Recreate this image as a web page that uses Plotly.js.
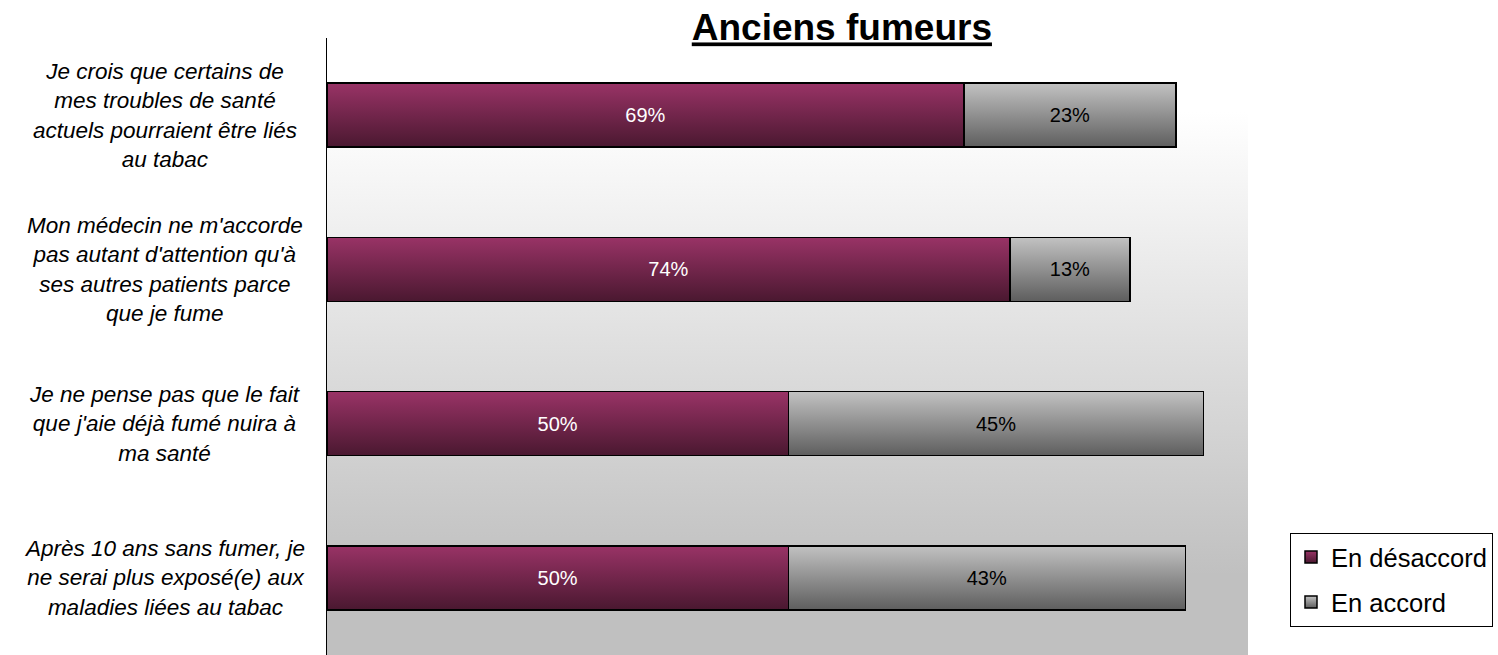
<!DOCTYPE html>
<html>
<head>
<meta charset="utf-8">
<script src="https://cdn.plot.ly/plotly-3.0.1.min.js"></script>
<style>
  html, body { margin: 0; padding: 0; background: #ffffff; }
  #chart { width: 1498px; height: 655px; }
</style>
</head>
<body>
<div id="chart"></div>
<script>
// ---- Data ----
const categories = [
  "Je crois que certains de<br>mes troubles de santé<br>actuels pourraient être liés<br>au tabac",
  "Mon médecin ne m'accorde<br>pas autant d'attention qu'à<br>ses autres patients parce<br>que je fume",
  "Je ne pense pas que le fait<br>que j'aie déjà fumé nuira à<br>ma santé",
  "Après 10 ans sans fumer, je<br>ne serai plus exposé(e) aux<br>maladies liées au tabac"
];
const seriesNames = ["En désaccord", "En accord"];
const desaccord = [69, 74, 50, 50];
const accord = [23, 13, 45, 43];
const chartTitle = "Anciens fumeurs";

// ---- Styles ----
const purple = "#72254a";
const grey = "#909090";

const traces = [
  {
    type: "bar", orientation: "h", name: seriesNames[0],
    y: categories, x: desaccord,
    text: desaccord.map(v => v + "%"), textposition: "inside",
    insidetextanchor: "middle", textangle: 0,
    insidetextfont: { family: "Arial, Liberation Sans, sans-serif", size: 20, color: "#ffffff" },
    marker: { color: purple, line: { color: "#000000", width: 1.5 } },
    width: 0.415, legendgroup: "a", hoverinfo: "none"
  },
  {
    type: "bar", orientation: "h", name: seriesNames[1],
    y: categories, x: accord,
    text: accord.map(v => v + "%"), textposition: "inside",
    insidetextanchor: "middle", textangle: 0,
    insidetextfont: { family: "Arial, Liberation Sans, sans-serif", size: 20, color: "#000000" },
    marker: { color: grey, line: { color: "#000000", width: 1.5 } },
    width: 0.415, legendgroup: "b", hoverinfo: "none"
  }
];

const bgSvg = "<svg xmlns='http://www.w3.org/2000/svg' width='100' height='100' preserveAspectRatio='none'>" +
  "<defs><linearGradient id='g' x1='0' y1='0' x2='0' y2='1'>" +
  "<stop offset='0' stop-color='#ffffff'/><stop offset='0.12' stop-color='#ffffff'/>" +
  "<stop offset='0.87' stop-color='#c0c0c0'/><stop offset='1' stop-color='#c0c0c0'/>" +
  "</linearGradient></defs><rect width='100' height='100' fill='url(#g)'/></svg>";

const annotations = categories.map(c => ({
  xref: "paper", yref: "y", x: -0.176, y: c,
  xanchor: "center", yanchor: "middle", align: "center",
  text: "<i>" + c + "</i>", showarrow: false,
  font: { family: "Arial, Liberation Sans, sans-serif", size: 22.5, color: "#000000" }
}));

const layout = {
  width: 1498, height: 655,
  margin: { l: 327, r: 250, t: 38, b: 0, pad: 0 },
  paper_bgcolor: "#ffffff",
  plot_bgcolor: "rgba(0,0,0,0)",
  barmode: "stack",
  title: {
    text: "<b><u>" + chartTitle + "</u></b>",
    font: { family: "Arial, Liberation Sans, sans-serif", size: 37, color: "#000000" },
    xref: "container", x: 0.562, xanchor: "center",
    yref: "container", y: 0.958, yanchor: "middle"
  },
  xaxis: {
    range: [0, 99.8], showgrid: false, zeroline: false,
    showticklabels: false, showline: false, ticks: ""
  },
  yaxis: {
    type: "category", range: [3.5, -0.5],
    showgrid: false, zeroline: false, showticklabels: false,
    showline: true, linecolor: "#000000", linewidth: 1.5, ticks: ""
  },
  showlegend: true,
  legend: {
    x: 1.0456, xanchor: "left", y: 0.198, yanchor: "top",
    traceorder: "grouped", tracegroupgap: 9,
    bordercolor: "#000000", borderwidth: 1, bgcolor: "#ffffff",
    font: { family: "Arial, Liberation Sans, sans-serif", size: 25.5, color: "#000000" }
  },
  images: [{
    source: "data:image/svg+xml;charset=utf-8," + encodeURIComponent(bgSvg),
    xref: "paper", yref: "paper", x: 0, y: 1, sizex: 1, sizey: 1,
    xanchor: "left", yanchor: "top", sizing: "stretch", layer: "below"
  }],
  annotations: annotations
};

Plotly.newPlot("chart", traces, layout, { displayModeBar: false, staticPlot: true }).then(gd => {
  const NS = "http://www.w3.org/2000/svg";
  const svg = gd.querySelector(".main-svg");
  let defs = svg.querySelector("defs");
  if (!defs) { defs = document.createElementNS(NS, "defs"); svg.insertBefore(defs, svg.firstChild); }
  function grad(id, top, bottom) {
    const lg = document.createElementNS(NS, "linearGradient");
    lg.setAttribute("id", id);
    lg.setAttribute("x1", "0"); lg.setAttribute("y1", "0");
    lg.setAttribute("x2", "0"); lg.setAttribute("y2", "1");
    [[0, top], [1, bottom]].forEach(([o, c]) => {
      const s = document.createElementNS(NS, "stop");
      s.setAttribute("offset", o); s.setAttribute("stop-color", c);
      lg.appendChild(s);
    });
    defs.appendChild(lg);
  }
  grad("gradPurple", "#993366", "#4a1830");
  grad("gradGrey", "#c2c2c2", "#5e5e5e");
  const fills = ["url(#gradPurple)", "url(#gradGrey)"];
  gd.querySelectorAll(".barlayer .trace").forEach((t, i) => {
    t.querySelectorAll(".point path").forEach(p => { p.style.fill = fills[i]; });
  });
  gd.querySelectorAll(".legend .traces").forEach((t, i) => {
    t.querySelectorAll(".legendpoints path").forEach(p => { p.style.fill = fills[i]; });
  });
});
</script>
</body>
</html>
